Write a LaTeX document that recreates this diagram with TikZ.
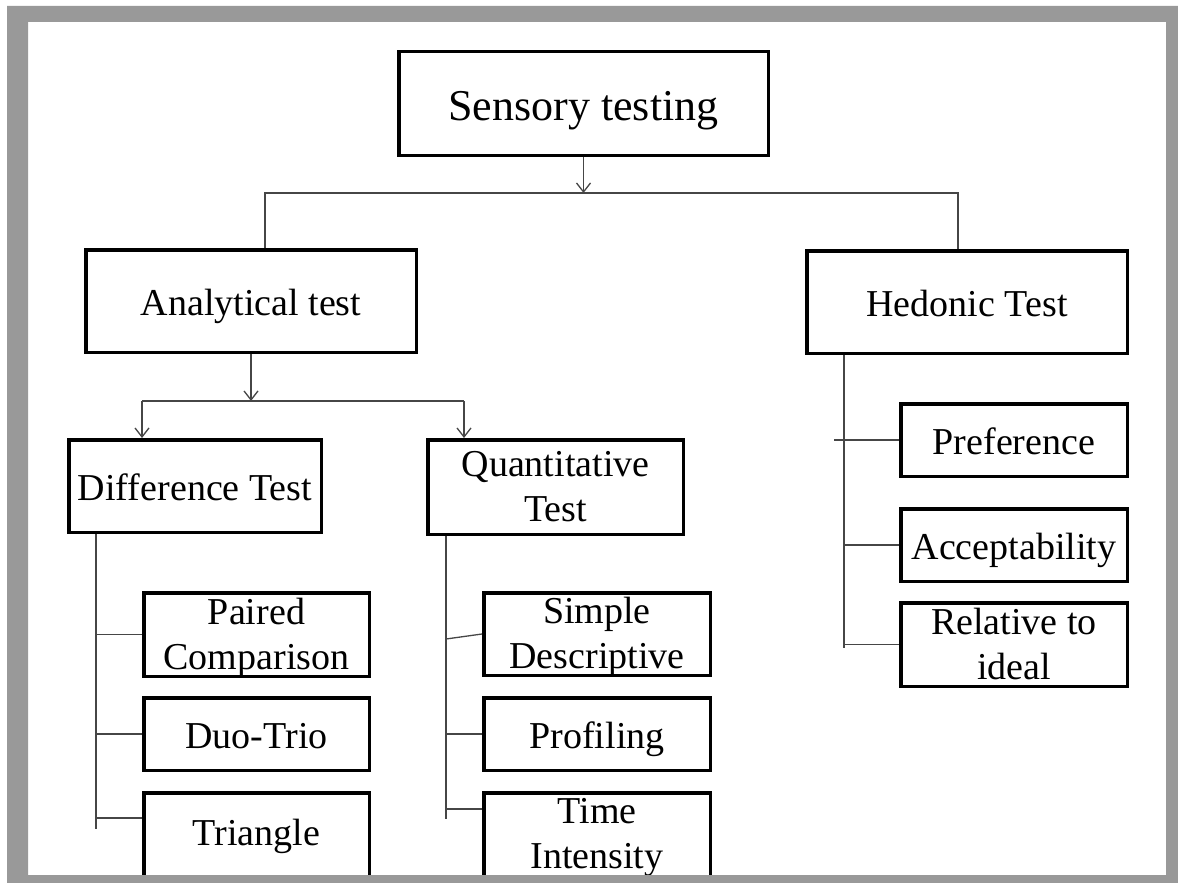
\documentclass[tikz,border=0pt]{standalone}
\usepackage{fontspec}
\setmainfont{Liberation Serif}
\usetikzlibrary{arrows.meta}
\definecolor{framegray}{RGB}{153,153,153}
\definecolor{conngray}{RGB}{70,70,70}
\tikzset{
  box/.style={draw=black, line width=3.5pt, fill=white, align=center, inner sep=0pt,
    font=\fontsize{38}{45}\selectfont},
  oneline/.style={text height=34pt, text depth=6pt},
  twoline/.style={text height=75pt, text depth=6pt},
  conn/.style={draw=conngray, line width=1.3pt},
  arr/.style={conn, -{Straight Barb[length=9pt,width=14pt,line width=1.3pt]}},
}
\begin{document}
\begin{tikzpicture}[x=1pt,y=-1pt]
\useasboundingbox (0,0) rectangle (1178,883);
\fill[white] (0,0) rectangle (1178,883);

% nodes
\node[box, minimum width=369.5pt, minimum height=103.5pt, font=\fontsize{44}{50}\selectfont, text height=41pt, text depth=6pt] (title) at (583.5,103.5) {Sensory testing};
\node[box, oneline, minimum width=330.5pt, minimum height=102.5pt] (anal) at (251,301) {Analytical test};
\node[box, oneline, minimum width=320.5pt, minimum height=102.5pt] (hed) at (967,302) {Hedonic Test};
\node[box, oneline, minimum width=252.5pt, minimum height=92.5pt] (diff) at (195,486) {Difference Test};
\node[box, twoline, minimum width=255.5pt, minimum height=94.5pt] (quant) at (555.5,487) {Quantitative\\Test};
\node[box, twoline, minimum width=225.5pt, minimum height=83.5pt] (paired) at (256.5,634.5) {Paired\\Comparison};
\node[box, oneline, minimum width=225.5pt, minimum height=72.5pt] (duo) at (256.5,734) {Duo-Trio};
\node[box, text height=26pt, text depth=8pt, minimum width=225.5pt, minimum height=86.5pt] (tri) at (256.5,836) {Triangle};
\node[box, twoline, minimum width=226.5pt, minimum height=82.5pt] (simple) at (597,634) {Simple\\Descriptive};
\node[box, oneline, minimum width=226.5pt, minimum height=72.5pt] (prof) at (597,734) {Profiling};
\node[box, text height=70pt, text depth=6pt, minimum width=226.5pt, minimum height=86.5pt] (time) at (597,836) {Time\\Intensity};
\node[box, oneline, minimum width=226.5pt, minimum height=72.5pt] (pref) at (1014,440) {Preference};
\node[box, oneline, minimum width=226.5pt, minimum height=72.5pt] (acc) at (1014,545) {Acceptability};
\node[box, twoline, minimum width=226.5pt, minimum height=83.5pt] (rel) at (1014,644.5) {Relative to\\ideal};

% top level connectors
\coordinate (jt) at (583.5,193);
\coordinate (jl) at (265,193);
\coordinate (jr) at (958,193);
\draw[arr] (title.south) -- (jt);
\draw[conn] (anal.north -| jl) |- (jr) -- (hed.north -| jr);

% analytical connectors
\coordinate (ja) at (251,401);
\coordinate (jd) at (142,401);
\coordinate (jq) at (464,401);
\draw[arr] (anal.south) -- (ja);
\draw[conn] (jd) -- (jq);
\draw[arr] (jd) -- (diff.north -| jd);
\draw[arr] (jq) -- (quant.north -| jq);

% difference branch
\coordinate (de) at (96,829);
\coordinate (tb) at (96,818);
\draw[conn] (diff.south -| de) -- (de);
\draw[conn] (paired.west -| de) -- (paired.west);
\draw[conn] (duo.west -| de) -- (duo.west);
\draw[conn] (tb) -- (tb -| tri.west);

% quantitative branch
\coordinate (qe) at (446,819);
\coordinate (qs) at (446,639);
\coordinate (qt) at (446,809);
\draw[conn] (quant.south -| qe) -- (qe);
\draw[conn] (qs) -- (simple.west);
\draw[conn] (prof.west -| qe) -- (prof.west);
\draw[conn] (qt) -- (qt -| time.west);

% hedonic branch
\coordinate (he) at (844,648);
\coordinate (hp) at (834,440);
\draw[conn] (hed.south -| he) -- (he);
\draw[conn] (hp) -- (pref.west);
\draw[conn] (acc.west -| he) -- (acc.west);
\draw[conn] (rel.west -| he) -- (rel.west);

% gray frame on top
\fill[framegray, even odd rule] (7,6) rectangle (1178,883) (28,22) rectangle (1166,875);
\end{tikzpicture}
\end{document}
